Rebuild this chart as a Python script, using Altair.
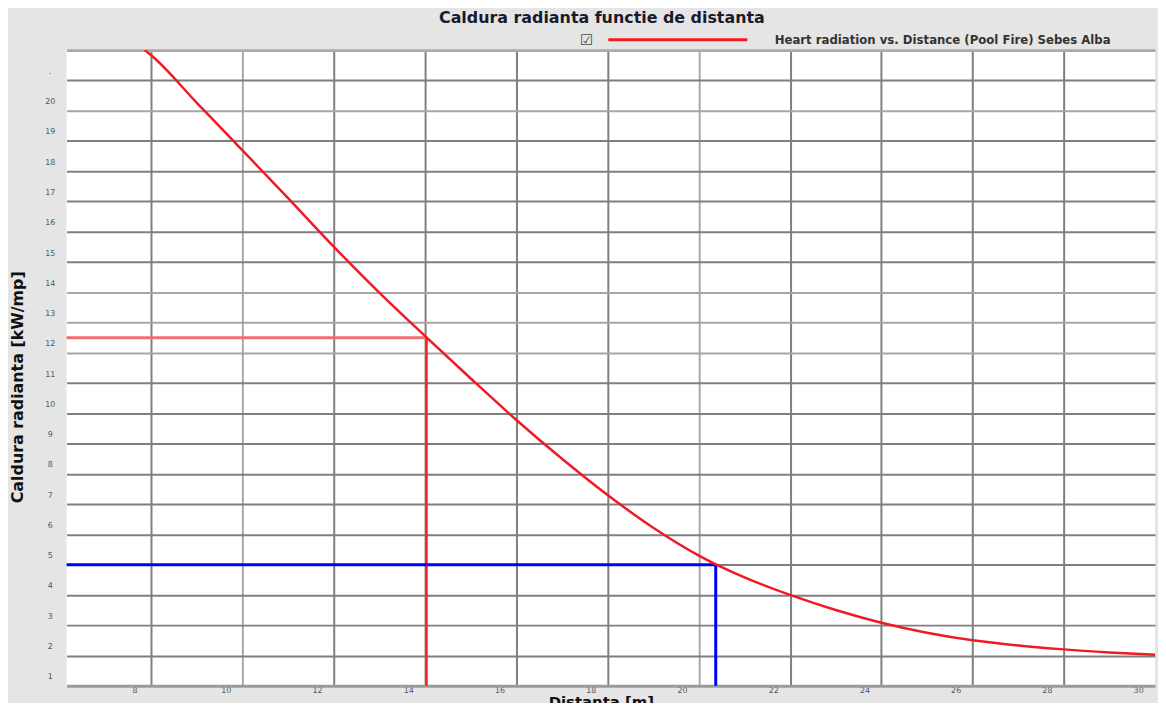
import altair as alt
import pandas as pd

# ---- data ----
distance_m = [7.85, 8, 9, 10, 11, 12, 13, 14, 15, 16, 17, 18, 19, 20, 21, 22,
              23, 24, 25, 26, 27, 28, 29, 30]
radiation_kw = [22.0, 21.82, 20.25, 18.68, 17.1, 15.5, 13.98, 12.55, 11.15, 9.78,
                8.5, 7.3, 6.22, 5.3, 4.58, 4.0, 3.5, 3.08, 2.75, 2.5, 2.33,
                2.2, 2.1, 2.02]
series_name = "Heart radiation vs. Distance (Pool Fire) Sebes Alba"

threshold_kw = [12.5, 5.0]        # red, blue
threshold_dist = [14.03, 20.37]

x_ticks = [8, 10, 12, 14, 16, 18, 20, 22, 24, 26, 28, 30]
y_ticks = list(range(1, 23))
X_MIN, X_MAX = 6.14, 30.0
Y_MIN, Y_MAX = 1.0, 22.0

title_text = "Caldura radianta functie de distanta"
x_title = "Distanta [m]"
y_title = "Caldura radianta [kW/mp]"

FONT = "DejaVu Sans"

curve = pd.DataFrame({"d": distance_m, "q": radiation_kw, "series": series_name})
thr = pd.DataFrame({"q": threshold_kw, "d": threshold_dist,
                    "xmin": X_MIN, "ymin": Y_MIN})
thr_red = thr.iloc[[0]]
thr_blue = thr.iloc[[1]]

xscale = alt.Scale(domain=[X_MIN, X_MAX], nice=False, zero=False)
yscale = alt.Scale(domain=[Y_MIN, Y_MAX], nice=False, zero=False)

x_axis = alt.Axis(
    values=x_ticks, title=x_title, titleFont=FONT, titleFontSize=15,
    titleFontWeight="bold", titleColor="#111111", titleX=538, titleY=9,
    titleBaseline="top", titleAlign="center",
    labelFont=FONT, labelFontSize=8, labelColor="#555555", labelOffset=-17,
    labelPadding=1, labelFlush=False, labelOverlap=False,
    ticks=False, domain=True, domainColor="#9a9a9a", domainWidth=3,
    grid=True, gridWidth=2,
    gridColor={"condition": {"test": "datum.value == 10 || datum.value == 20",
                             "value": "#a8a8a8"}, "value": "#7f7f7f"},
    gridOpacity={"condition": {"test": "datum.value >= 30", "value": 0}, "value": 1},
)

y_axis = alt.Axis(
    values=y_ticks, title=y_title, titleFont=FONT, titleFontSize=16,
    titleFontWeight="bold", titleColor="#111111", titleAngle=270,
    titleX=-49, titleY=339, titleAlign="center", titleBaseline="middle",
    labelFont=FONT, labelFontSize=8, labelColor="#555555",
    labelAlign="center", labelBaseline="middle", labelOffset=-9, labelPadding=17,
    labelExpr="datum.value == 22 ? '' : (datum.value == 21 ? '.' : datum.label)",
    labelFlush=False, labelOverlap=False,
    ticks=False, domain=False,
    grid=True,
    gridColor={"condition": [
        {"test": "datum.value == 22", "value": "#a9a9a9"},
        {"test": "datum.value == 12 || datum.value == 13 || datum.value == 14 || datum.value == 20",
         "value": "#a6a6a6"}], "value": "#7f7f7f"},
    gridWidth={"condition": {"test": "datum.value == 22", "value": 3}, "value": 2},
    gridOpacity={"condition": {"test": "datum.value <= 1", "value": 0}, "value": 1},
)


def X(field):
    return alt.X(field, type="quantitative", scale=xscale, axis=x_axis)


def Y(field):
    return alt.Y(field, type="quantitative", scale=yscale, axis=y_axis)


red_h = alt.Chart(thr_red).mark_rule(color="#ef6e6e", strokeWidth=3).encode(
    x=X("xmin"), x2="d", y=Y("q"))
red_v = alt.Chart(thr_red).mark_rule(color="#ff1f1f", strokeWidth=2.5).encode(
    x=X("d"), y=Y("ymin"), y2="q")
blue_h = alt.Chart(thr_blue).mark_rule(color="#0000ff", strokeWidth=3).encode(
    x=X("xmin"), x2="d", y=Y("q"))
blue_v = alt.Chart(thr_blue).mark_rule(color="#0000ff", strokeWidth=3).encode(
    x=X("d"), y=Y("ymin"), y2="q")

line = alt.Chart(curve).mark_line(strokeWidth=2.5, interpolate="monotone", clip=True).encode(
    x=X("d"), y=Y("q"),
    color=alt.Color("series:N", scale=alt.Scale(range=["#f01a22"]),
                    legend=alt.Legend(
                        orient="none", legendX=517, legendY=-17, direction="horizontal",
                        title="\u2611", titleOrient="left", titleFont=FONT,
                        titleFontSize=15, titleColor="#4a4a4a", titlePadding=78,
                        titleBaseline="middle",
                        symbolType="M-14,0H14", symbolSize=100, symbolStrokeWidth=3,
                        symbolStrokeColor="#ff0000", symbolFillColor="transparent",
                        labelFont=FONT, labelFontSize=11.8, labelFontWeight="bold",
                        labelColor="#333333", labelOffset=91, labelLimit=600,
                    )),
)

chart = alt.layer(red_h, red_v, blue_h, blue_v, line).properties(
    width=1096, height=640,
    autosize=alt.AutoSizeParams(type="none"),
    padding={"left": 59, "top": 40, "right": 3, "bottom": 15},
    background="#e5e5e5",
    title=alt.Title(title_text, font=FONT, fontSize=16, fontWeight="bold",
                    color="#1a1a2e", anchor="middle", dx=-9, offset=7),
).configure_view(fill="white", strokeWidth=0)

chart.save("out.html", embed_options={"renderer": "svg", "actions": False})
